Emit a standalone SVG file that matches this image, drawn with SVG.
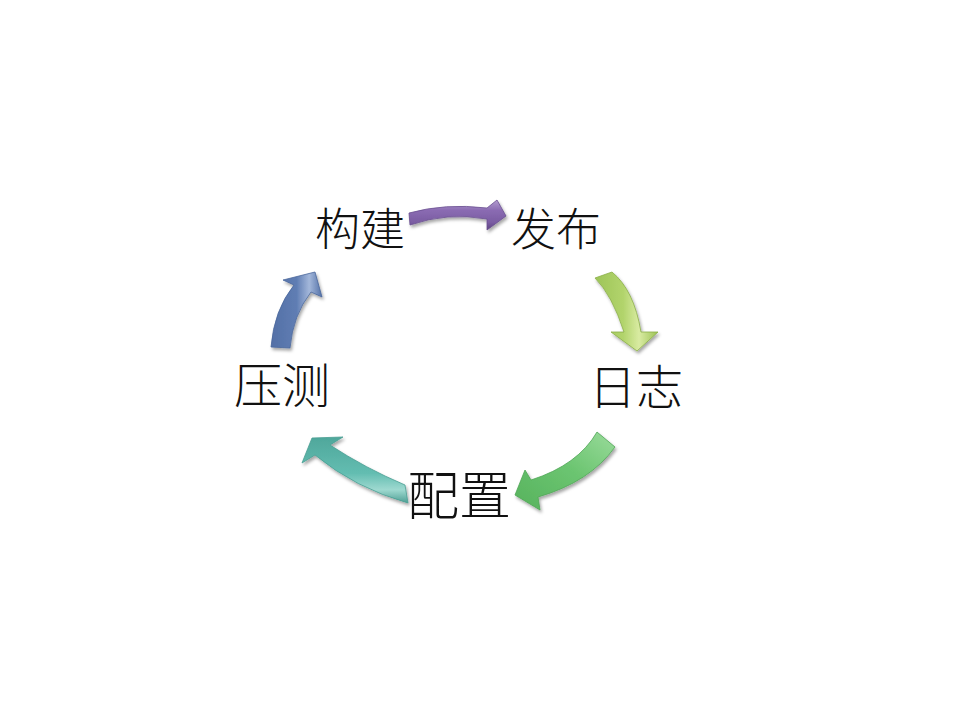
<svg xmlns="http://www.w3.org/2000/svg" width="960" height="720" viewBox="0 0 960 720">
  <style>
    .lbl { font-family: "Noto Sans CJK SC", "Noto Sans CJK JP", sans-serif; font-weight: 300; fill: #111111; text-anchor: middle; }
    .arrow { filter: url(#shadow); stroke-width: 0.8; stroke-linejoin: round; }
  </style>
  <defs>
    <filter id="shadow" x="-30%" y="-30%" width="160%" height="160%">
      <feDropShadow dx="1.5" dy="2.5" stdDeviation="1.8" flood-color="#000000" flood-opacity="0.35"/>
    </filter>
    <linearGradient id="gPurple" x1="0" y1="0" x2="0" y2="1">
      <stop offset="0" stop-color="#B39DD0"/>
      <stop offset="0.35" stop-color="#8A6BB2"/>
      <stop offset="0.75" stop-color="#7A5CA2"/>
      <stop offset="1" stop-color="#5C4380"/>
    </linearGradient>
    <linearGradient id="gYellow" x1="0" y1="0" x2="1" y2="0">
      <stop offset="0" stop-color="#9DC458"/>
      <stop offset="0.45" stop-color="#B2D46C"/>
      <stop offset="0.7" stop-color="#D9EBA2"/>
      <stop offset="1" stop-color="#9CC255"/>
    </linearGradient>
    <linearGradient id="gGreen" x1="1" y1="0" x2="0" y2="1">
      <stop offset="0" stop-color="#9ADB9B"/>
      <stop offset="0.45" stop-color="#6CC571"/>
      <stop offset="1" stop-color="#56B25D"/>
    </linearGradient>
    <linearGradient id="gTeal" x1="0" y1="0" x2="0" y2="1">
      <stop offset="0" stop-color="#4FA79B"/>
      <stop offset="0.55" stop-color="#63BDB1"/>
      <stop offset="0.8" stop-color="#9ED9D0"/>
      <stop offset="1" stop-color="#4E9F94"/>
    </linearGradient>
    <linearGradient id="gBlue" x1="0" y1="0" x2="1" y2="0">
      <stop offset="0" stop-color="#5470A6"/>
      <stop offset="0.5" stop-color="#5F7DB3"/>
      <stop offset="0.75" stop-color="#A3B7DA"/>
      <stop offset="1" stop-color="#5472A8"/>
    </linearGradient>
  </defs>

  <rect x="0" y="0" width="960" height="720" fill="#FFFFFF"/>

  <g id="connectors">
    <path id="arrow-build-publish" class="arrow" fill="url(#gPurple)" stroke="#6A4F90"
          d="M409,213 Q445,203 487,208 L497,200 L506,216 L487,230 L487,219 Q447,212 410,225 Z"/>
    <path id="arrow-publish-log" class="arrow" fill="url(#gYellow)" stroke="#8AAE48"
          d="M595,278 Q612,295 624,332 L611,332 L637,351 L658,332 L641,332 Q634,290 612,272 Z"/>
    <path id="arrow-log-config" class="arrow" fill="url(#gGreen)" stroke="#4FA656"
          d="M597,432 Q578,465 531,480 L525,470 L515,495 L540,510 L538,497 Q590,482 615,447 Z"/>
    <path id="arrow-config-stress" class="arrow" fill="url(#gTeal)" stroke="#4A9E93"
          d="M405,485 Q365,468 330,445 L343,437 L312,438 L302,463 L315,455 Q355,488 408,503 Z"/>
    <path id="arrow-stress-build" class="arrow" fill="url(#gBlue)" stroke="#4A679C"
          d="M271,347 Q274,310 294,285 L283,280 L315,272 L322,297 L311,292 Q293,315 290,348 Z"/>
  </g>

  <g id="node-build">
    <text class="lbl" x="360" y="246" font-size="45">构建</text>
  </g>
  <g id="node-publish">
    <text class="lbl" x="556" y="246" font-size="45">发布</text>
  </g>
  <g id="node-log">
    <text class="lbl" x="636" y="404" font-size="47">日志</text>
  </g>
  <g id="node-config">
    <text class="lbl" x="459" y="515" font-size="52">配置</text>
  </g>
  <g id="node-stress">
    <text class="lbl" x="282" y="403" font-size="48">压测</text>
  </g>
</svg>
